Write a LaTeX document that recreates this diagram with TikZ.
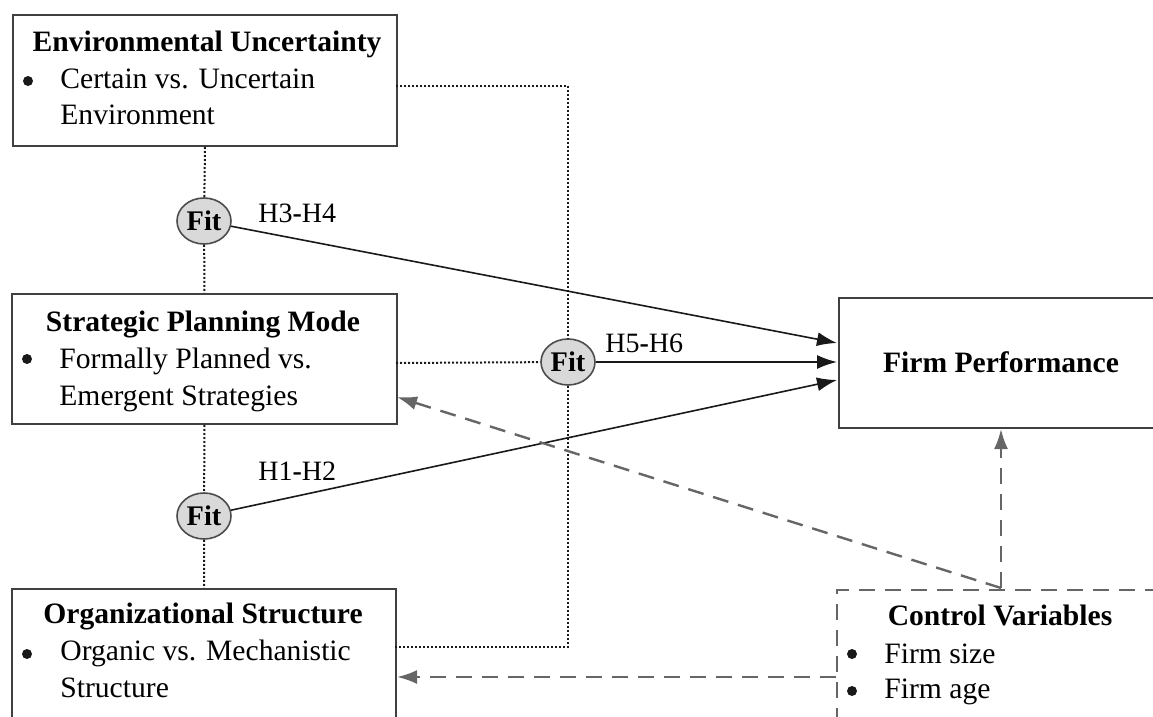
\documentclass[tikz,border=0pt]{standalone}
\usepackage{fontspec}
\setmainfont{Liberation Serif}
\usetikzlibrary{arrows.meta,shapes.geometric}

\begin{document}
\begin{tikzpicture}[x=0.5pt,y=-0.5pt,
    font=\fontsize{14.8}{18.3}\selectfont,
    box/.style={draw=black!75, line width=1pt, anchor=north west, inner sep=0pt},
    ctrlbox/.style={draw=black!60, line width=1.2pt, dash pattern=on 8pt off 5pt, anchor=north west, inner sep=0pt},
    fitnode/.style={ellipse, draw=black!70, line width=0.8pt, fill=black!15, minimum width=27pt, minimum height=23pt, inner sep=0pt, font=\fontsize{14.2}{16}\selectfont\bfseries},
    title/.style={anchor=base, inner sep=0pt, font=\fontsize{14.8}{18}\selectfont\bfseries},
    item/.style={anchor=base west, inner sep=0pt},
    dot/.style={circle, fill=black!90, minimum size=5pt, inner sep=0pt},
    hyp/.style={anchor=base west, inner sep=0pt, font=\fontsize{14}{16}\selectfont},
    link/.style={black!90, line width=1pt, dash pattern=on 1pt off 1pt},
    effect/.style={black!90, line width=0.8pt, -{Latex[length=10pt,width=7pt]}},
    control/.style={black!60, line width=1.2pt, dash pattern=on 8pt off 5pt, -{Latex[length=10pt,width=7pt]}}
]
    \useasboundingbox (0,0) rectangle (1153,717);

    \coordinate (envout) at (396,86);
    \coordinate (stratout) at (396,363);
    \coordinate (orgout) at (395,647);
    \coordinate (perfA) at (837,343);
    \coordinate (perfB) at (837,362);
    \coordinate (perfC) at (837,380);
    \coordinate (split) at (1001,588);
    \coordinate (stratin) at (397,397);
    \coordinate (ctrlout) at (836,677);

    % boxes
    \node[box, minimum width=192pt, minimum height=65.5pt] (env) at (12,14) {};
    \node[box, minimum width=192.5pt, minimum height=65pt] (strat) at (11,293) {};
    \node[box, minimum width=192pt, minimum height=100pt] (org) at (11,588) {};
    \node[box, minimum width=200pt, minimum height=65pt] (perf) at (838,297) {};
    \node[ctrlbox, minimum width=200pt, minimum height=100pt] (ctrl) at (836,589) {};

    \node[fitnode] (fitA) at (204,221) {Fit};
    \node[fitnode] (fitB) at (568,362) {Fit};
    \node[fitnode] (fitC) at (204,516) {Fit};

    \draw[link] (env.south) -- (fitA) -- (strat.north);
    \draw[link] (strat.south) -- (fitC) -- (org.north);
    \draw[link] (envout) -- (envout -| fitB) -- (fitB) -- (orgout -| fitB) -- (orgout);
    \draw[link] (stratout) -- (fitB);

    \draw[effect] (fitA) -- (perfA);
    \draw[effect] (fitB) -- (perfB);
    \draw[effect] (fitC) -- (perfC);

    \draw[control] (split) -- (stratin);
    \draw[control] (split) -- (split |- perf.south);
    \draw[control] (ctrlout) -- (org.east |- ctrlout);

    % texts
    \node[title] (envtitle) at (207,52) {Environmental Uncertainty};
    \node[dot] (envdot) at (28,81) {};
    \node[item] (envitemA) at (60,89) {Certain vs. Uncertain};
    \node[item] (envitemB) at (60,125) {Environment};

    \node[title] (strattitle) at (203,331) {Strategic Planning Mode};
    \node[dot] (stratdot) at (27,359) {};
    \node[item] (stratitemA) at (59,368) {Formally Planned vs.};
    \node[item] (stratitemB) at (59,405) {Emergent Strategies};

    \node[title] (orgtitle) at (203,623) {Organizational Structure};
    \node[dot] (orgdot) at (27,654) {};
    \node[item] (orgitemA) at (60,660) {Organic vs. Mechanistic};
    \node[item] (orgitemB) at (60,697) {Structure};

    \node[title] (perftitle) at (1001,372) {Firm Performance};

    \node[title] (ctrltitle) at (1000,625) {Control Variables};
    \node[dot] (ctrldotA) at (852,654) {};
    \node[item] (ctrlitemA) at (884,663) {Firm size};
    \node[dot] (ctrldotB) at (852,691) {};
    \node[item] (ctrlitemB) at (884,698) {Firm age};

    \node[hyp] (hypA) at (258,223) {H3\textbf{-}H4};
    \node[hyp] (hypB) at (605,352) {H5\textbf{-}H6};
    \node[hyp] (hypC) at (258,480) {H1\textbf{-}H2};
\end{tikzpicture}
\end{document}
